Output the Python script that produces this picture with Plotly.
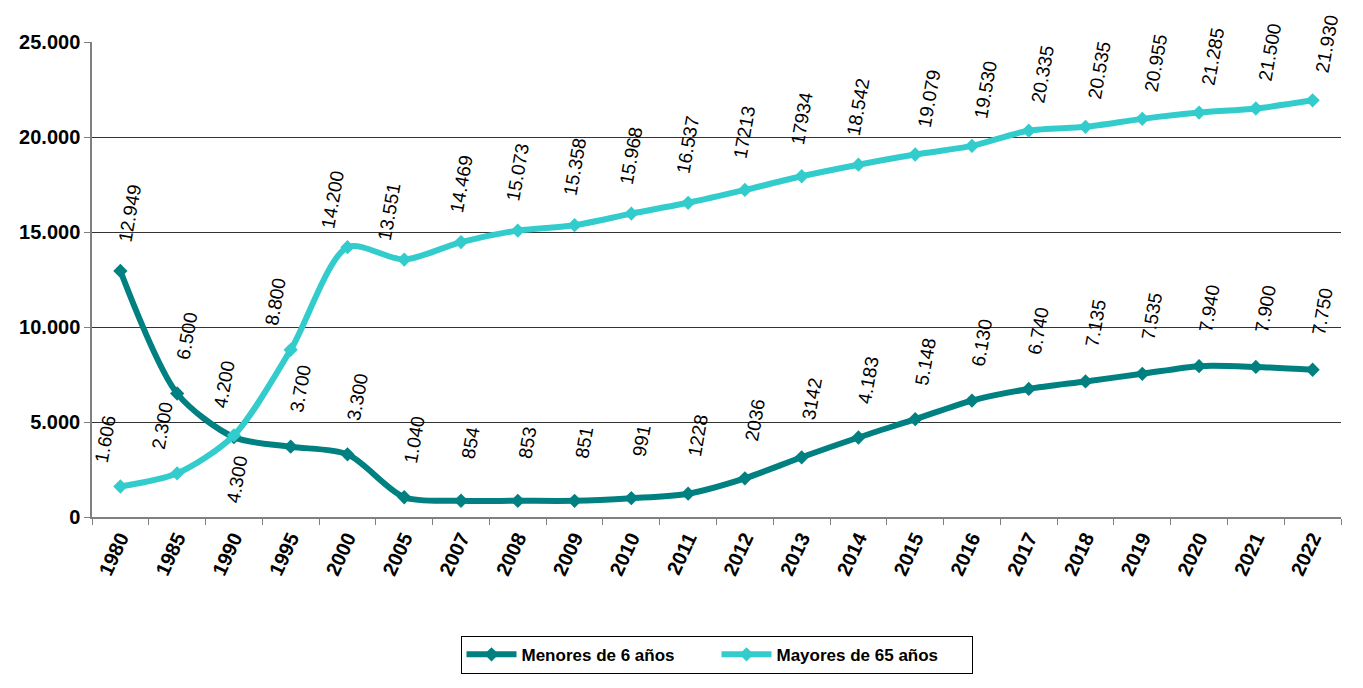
import plotly.graph_objects as go

years = ["1980", "1985", "1990", "1995", "2000", "2005", "2007", "2008", "2009", "2010", "2011",
         "2012", "2013", "2014", "2015", "2016", "2017", "2018", "2019", "2020", "2021", "2022"]

menores = [12949, 6500, 4200, 3700, 3300, 1040, 854, 853, 851, 991, 1228,
           2036, 3142, 4183, 5148, 6130, 6740, 7135, 7535, 7940, 7900, 7750]
menores_labels = ["12.949", "6.500", "4.200", "3.700", "3.300", "1.040", "854", "853", "851", "991", "1228",
                  "2036", "3142", "4.183", "5.148", "6.130", "6.740", "7.135", "7.535", "7.940", "7.900", "7.750"]

mayores = [1606, 2300, 4300, 8800, 14200, 13551, 14469, 15073, 15358, 15968, 16537,
           17213, 17934, 18542, 19079, 19530, 20335, 20535, 20955, 21285, 21500, 21930]
mayores_labels = ["1.606", "2.300", "4.300", "8.800", "14.200", "13.551", "14.469", "15.073", "15.358", "15.968", "16.537",
                  "17213", "17934", "18.542", "19.079", "19.530", "20.335", "20.535", "20.955", "21.285", "21.500", "21.930"]

series_names = ["Menores de 6 años", "Mayores de 65 años"]
colors = ["#008080", "#33CCCC"]

FONT = "Liberation Sans, Arial, sans-serif"

fig = go.Figure()
for name, vals, col in zip(series_names, [menores, mayores], colors):
    fig.add_trace(go.Scatter(
        x=years, y=vals, name=name, mode="lines+markers",
        line=dict(color=col, width=6, shape="spline", smoothing=0.8),
        marker=dict(symbol="diamond", size=11, color=col),
        hoverinfo="x+y",
    ))

label_font = dict(family=FONT, size=19, color="black")
for i, (v, t) in enumerate(zip(menores, menores_labels)):
    xs, ys = (10, 58) if i != 2 else (-10, 53)
    fig.add_annotation(x=i, y=v, xref="x", yref="y", text=t, showarrow=False,
                       textangle=-80, xanchor="center", yanchor="middle",
                       xshift=xs, yshift=ys, font=label_font)
for i, (v, t) in enumerate(zip(mayores, mayores_labels)):
    if i == 2:
        xs, ys = 3, -44
    elif i < 6:
        xs, ys = -15, 48
    elif i < 14:
        xs, ys = 0, 58
    else:
        xs, ys = 14, 56
    fig.add_annotation(x=i, y=v, xref="x", yref="y", text=t, showarrow=False,
                       textangle=-80, xanchor="center", yanchor="middle",
                       xshift=xs, yshift=ys, font=label_font)

fig.update_layout(
    width=1355, height=680,
    margin=dict(l=84, r=22, t=34, b=171),
    paper_bgcolor="white", plot_bgcolor="white",
    separators=",.",
    font=dict(family=FONT, color="black"),
    showlegend=True,
    legend=dict(orientation="h", x=0.5, xanchor="center", y=-0.25, yanchor="top",
                bordercolor="black", borderwidth=1,
                font=dict(family=FONT, size=17, color="black", weight="bold"),
                itemwidth=50, entrywidth=190, tracegroupgap=0),
    hovermode="closest",
)
fig.update_xaxes(
    type="category", tickangle=-65,
    tickfont=dict(family=FONT, size=20, color="black", weight="bold"),
    showline=True, linecolor="#808080", linewidth=1.5,
    ticks="outside", tickson="boundaries", ticklen=6, tickcolor="#808080",
    showgrid=False, range=[-0.5, len(years) - 0.5],
)
fig.update_yaxes(
    range=[0, 25000], dtick=5000, tickformat=",d",
    tickfont=dict(family=FONT, size=20, color="black", weight="bold"),
    showline=True, linecolor="#808080", linewidth=1.5,
    ticks="outside", ticklen=6, tickcolor="#808080",
    showgrid=True, gridcolor="#333333", gridwidth=1, zeroline=False,
)

fig.write_html("out.html")
